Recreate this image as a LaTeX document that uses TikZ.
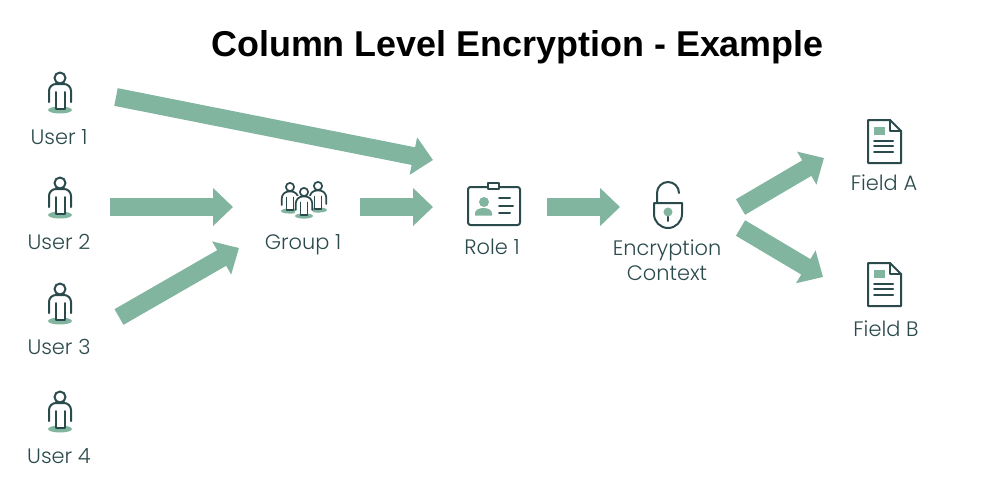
\documentclass[tikz,border=0pt]{standalone}
\usepackage{fontspec}
\setmainfont{Poppins Light}
\newfontfamily\titlefont{Liberation Sans}
\usepackage{tikz}
\usetikzlibrary{arrows.meta}

\definecolor{icondark}{HTML}{2B4A4C}
\definecolor{icongreen}{HTML}{81B5A0}

\tikzset{
    bigarrow/.style={draw=icongreen,line width=18pt,-{Triangle[length=20pt,width=37pt]}},
    iconline/.style={draw=icondark,line width=2pt,line cap=round,line join=round},
    caption/.style={text=icondark,font=\fontsize{20.9}{25}\selectfont,align=center,inner sep=0pt},
    person/.pic={
        \fill[icongreen] (0,0) ellipse [x radius=12pt,y radius=3.5pt];
        \draw[iconline,rounded corners=7pt] (-11,-8) -- (-11,-26) -- (11,-26) -- (11,-8);
        \draw[iconline,fill=white] (-4.5,-18) -- (-4.5,-1) -- (4.5,-1) -- (4.5,-18);
        \draw[iconline] (0,-32) circle (5.5pt);
    },
    document/.pic={
        \draw[iconline] (-16.5,-21.5) -- (5.5,-21.5) -- (16.5,-10.5) -- (16.5,21.5) -- (-16.5,21.5) -- cycle;
        \draw[iconline] (5.5,-21.5) -- (5.5,-10.5) -- (16.5,-10.5);
        \fill[icongreen] (-10.5,-14.5) rectangle (0.5,-6.5);
        \draw[iconline] (-10.5,-0.5) -- (8.5,-0.5);
        \draw[iconline] (-10.5,4.5) -- (8.5,4.5);
        \draw[iconline] (-10.5,10.5) -- (8.5,10.5);
    },
    small/.style={scale=.75,iconline/.append style={line width=1.7pt}},
}

\begin{document}
\begin{tikzpicture}[x=1pt,y=-1pt]
        \useasboundingbox (0,0) rectangle (982,498);

        \node[font=\titlefont\bfseries\fontsize{35.9}{40}\selectfont,inner sep=0pt] (title) at (517.5,47) {Column Level Encryption - Example};

        % users
        \pic (P_1) at (60,110) {person};
        \pic (P_2) at (60,215) {person};
        \pic (P_3) at (60,321) {person};
        \pic (P_4) at (60,429) {person};
        \node[caption] (U_1) at (59,137) {User 1};
        \node[caption] (U_2) at (59,242) {User 2};
        \node[caption] (U_3) at (59,347) {User 3};
        \node[caption] (U_4) at (59,456) {User 4};

        % group
        \pic[small] (P_g1) at (290,211) {person};
        \pic[small] (P_g2) at (318,210) {person};
        \fill[white] (295,196) rectangle (313,213);
        \pic[small] (P_g3) at (304,216) {person};
        \node[caption] (G) at (303,245) {Group 1};

        % role badge
        \draw[iconline,rounded corners=2.5pt] (468,187) rectangle (520,225);
        \draw[iconline,fill=white] (488,183) rectangle (499,189);
        \fill[icongreen] (484,202) circle (5pt);
        \fill[icongreen] (475,215.5) -- (475,213) arc[start angle=180,end angle=0,x radius=8.5pt,y radius=5pt] -- (492,215.5) -- cycle;
        \draw[iconline] (499,198) -- (510,198);
        \draw[iconline] (499,206) -- (513,206);
        \draw[iconline] (499,213) -- (510,213);
        \node[caption] (R) at (492,247) {Role 1};

        % lock
        \draw[iconline] (654,203) -- (682,203) -- (682,214) arc[start angle=0,end angle=-180,radius=14pt] -- cycle;
        \draw[iconline] (657,203) -- (657,193) arc[start angle=180,end angle=0,radius=11pt] -- (679,193);
        \draw[iconline] (668,212) -- (668,221);
        \fill[icongreen] (668,212) circle (4.5pt);
        \node[caption] (E) at (667,260) {Encryption\\Context};

        % fields
        \pic (D_a) at (884.5,141.5) {document};
        \pic (D_b) at (884.5,284.5) {document};
        \node[caption] (F_a) at (884,183) {Field A};
        \node[caption] (F_b) at (886,329) {Field B};

        \coordinate (A_1s) at (116,97);
        \coordinate (A_1e) at (433,160);
        \coordinate (A_2s) at (110,207);
        \coordinate (A_2e) at (233,207);
        \coordinate (A_3s) at (119,317);
        \coordinate (A_3e) at (239,248);
        \coordinate (A_4s) at (360,207);
        \coordinate (A_4e) at (433,207);
        \coordinate (A_5s) at (547,207);
        \coordinate (A_5e) at (620,207);
        \coordinate (A_6s) at (740.5,207);
        \coordinate (A_6e) at (824,158);
        \coordinate (A_7s) at (740.5,228);
        \coordinate (A_7e) at (823,277);

        \draw[bigarrow] (A_1s) -- (A_1e);
        \draw[bigarrow] (A_2s) -- (A_2e);
        \draw[bigarrow] (A_3s) -- (A_3e);
        \draw[bigarrow] (A_4s) -- (A_4e);
        \draw[bigarrow] (A_5s) -- (A_5e);
        \draw[bigarrow] (A_6s) -- (A_6e);
        \draw[bigarrow] (A_7s) -- (A_7e);

\end{tikzpicture}
\end{document}
